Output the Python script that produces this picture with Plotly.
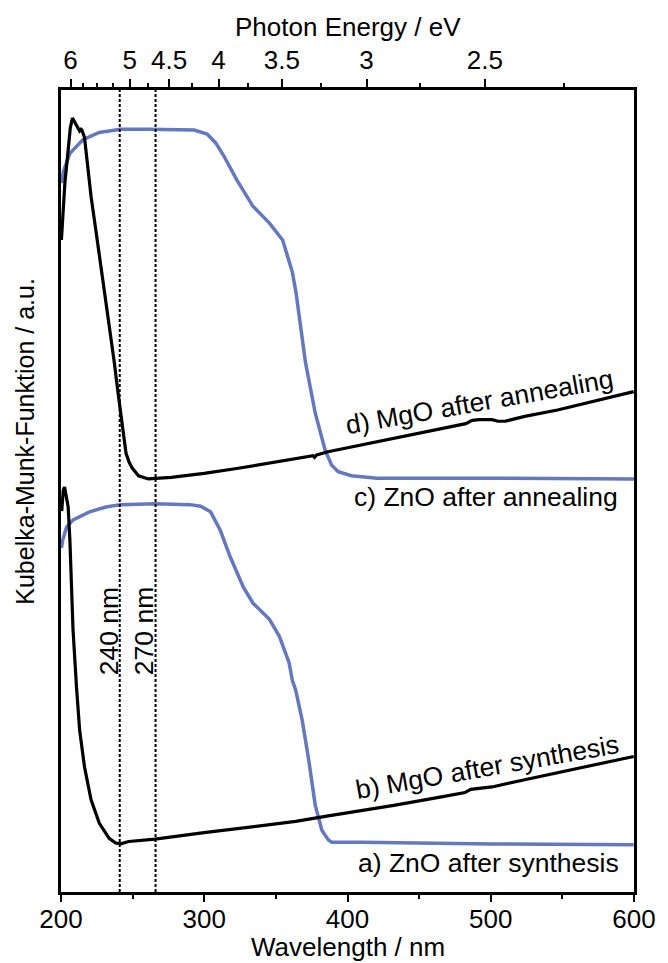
import plotly.graph_objects as go

# ---------------- data ----------------
# a) ZnO after synthesis (blue, lower)
wl_a = [200.3, 201.2, 203.9, 208.4, 219.9, 231.3, 241.6, 265.6, 290.0, 297.5, 304.4, 311.2,
        318.1, 327.3, 334.1, 345.5, 352.4, 359.2, 361.5, 363.8, 368.4, 370.7, 372.9, 377.5,
        382.1, 386.6, 389.0, 409.5, 500.9, 599.8]
km_a = [4.29, 4.39, 4.55, 4.64, 4.74, 4.80, 4.83, 4.84, 4.83, 4.81, 4.74, 4.51,
        4.18, 3.80, 3.60, 3.40, 3.19, 2.86, 2.64, 2.52, 2.14, 1.90, 1.65, 1.08,
        0.77, 0.65, 0.62, 0.62, 0.60, 0.59]

# b) MgO after synthesis (black, lower)
wl_b = [200.5, 201.0, 201.6, 202.5, 203.9, 205.0, 206.2, 207.3, 208.4, 210.8, 213.0, 216.4,
        221.0, 226.7, 233.6, 238.2, 241.6, 247.3, 265.6, 299.9, 345.5, 363.8, 386.6, 432.3,
        466.6, 482.0, 486.0, 500.9, 523.7, 546.6, 569.4, 599.8]
km_b = [4.75, 4.92, 5.01, 5.05, 4.93, 4.80, 4.39, 3.89, 3.27, 2.56, 2.02, 1.56,
        1.15, 0.86, 0.67, 0.61, 0.60, 0.63, 0.66, 0.74, 0.84, 0.88, 0.95, 1.08,
        1.19, 1.24, 1.28, 1.31, 1.40, 1.49, 1.58, 1.69]

# c) ZnO after annealing (blue, upper)
wl_c = [200.5, 201.6, 206.2, 215.3, 226.7, 241.6, 260.0, 280.0, 293.0, 302.0, 308.0, 313.6,
        322.7, 334.0, 345.5, 354.7, 358.0, 361.5, 364.0, 367.0, 370.7, 377.5, 384.4, 389.0,
        393.5, 402.7, 420.7, 500.0, 600.0]
km_c = [8.84, 8.98, 9.21, 9.38, 9.47, 9.51, 9.51, 9.51, 9.50, 9.45, 9.34, 9.18,
        8.88, 8.55, 8.34, 8.13, 7.94, 7.73, 7.48, 7.07, 6.60, 5.97, 5.51, 5.32,
        5.24, 5.19, 5.16, 5.16, 5.15]

# d) MgO after annealing (black, upper)
wl_d = [200.3, 200.8, 202.7, 205.0, 206.5, 208.0, 209.5, 210.8, 213.0, 214.0, 214.6, 216.4,
        218.7, 221.0, 224.5, 228.0, 234.8, 237.0, 240.0, 243.9, 245.4, 247.5, 249.6, 254.1,
        261.0, 277.0, 299.9, 322.7, 345.5, 363.8, 376.0, 377.0, 378.5, 386.4, 432.3, 455.2,
        482.6, 487.0, 491.8, 500.9, 505.0, 510.0, 523.7, 546.6, 569.4, 599.8]
km_d = [8.13, 8.32, 8.84, 9.25, 9.53, 9.65, 9.61, 9.56, 9.49, 9.51, 9.50, 9.41,
        9.04, 8.67, 8.23, 7.79, 6.88, 6.63, 6.20, 5.64, 5.47, 5.36, 5.29, 5.19,
        5.15, 5.17, 5.22, 5.28, 5.35, 5.41, 5.44, 5.42, 5.45, 5.49, 5.66, 5.74,
        5.84, 5.88, 5.89, 5.89, 5.87, 5.87, 5.93, 6.01, 6.11, 6.24]

# marked wavelengths (dashed lines)
edge_wl = [241, 266]
edge_labels = ["240 nm", "270 nm"]

# axes
wl_ticks = [200, 300, 400, 500, 600]
wl_minor = [250, 350, 450, 550]
energy_major = [6, 5, 4.5, 4, 3.5, 3, 2.5]
energy_labels = ["6", "5", "4.5", "4", "3.5", "3", "2.5"]
energy_minor = [5.75, 5.5, 5.25, 4.75, 4.25, 3.75, 3.25, 2.75, 2.25]
HC = 1239.84  # eV*nm

# curve labels: (text, x, y, angle, anchor)
curve_labels = [
    ("d) MgO after annealing", 492, 6.11, -10, "center"),
    ("c) ZnO after annealing", 590, 4.93, 0, "right"),
    ("b) MgO after synthesis", 498, 1.56, -10, "center"),
    ("a) ZnO after synthesis", 591, 0.365, 0, "right"),
]

FONT = "Liberation Sans, Arial, Helvetica, sans-serif"
BLUE = "#6478BE"
FS = 26.5
FT = 26

fig = go.Figure()

fig.add_trace(go.Scatter(x=wl_c, y=km_c, mode="lines", line=dict(color=BLUE, width=3.5)))
fig.add_trace(go.Scatter(x=wl_a, y=km_a, mode="lines", line=dict(color=BLUE, width=3.5)))
fig.add_trace(go.Scatter(x=wl_d, y=km_d, mode="lines", line=dict(color="black", width=3.2)))
fig.add_trace(go.Scatter(x=wl_b, y=km_b, mode="lines", line=dict(color="black", width=3.2)))

# dashed reference lines (on the top axis so that it is drawn)
dx, dy = [], []
for w in edge_wl:
    dx += [w, w, None]
    dy += [0, 10, None]
fig.add_trace(go.Scatter(x=dx, y=dy, mode="lines", xaxis="x2",
                         line=dict(color="black", width=2, dash="3px,2px")))

for w, t in zip(edge_wl, edge_labels):
    fig.add_annotation(x=w - 7.5, y=3.25, text=t, showarrow=False, textangle=-90,
                       font=dict(size=FS, color="black", family=FONT),
                       xanchor="center", yanchor="middle")

for t, x, y, ang, anc in curve_labels:
    fig.add_annotation(x=x, y=y, text=t, showarrow=False, textangle=ang,
                       font=dict(size=FS, color="black", family=FONT),
                       xanchor=anc, yanchor="middle")

# axis titles
fig.add_annotation(x=0.5, y=-0.0685, xref="paper", yref="paper", text="Wavelength / nm",
                   showarrow=False, font=dict(size=FT, color="black", family=FONT),
                   xanchor="center", yanchor="middle")
fig.add_annotation(x=0.5, y=1.079, xref="paper", yref="paper", text="Photon Energy / eV",
                   showarrow=False, font=dict(size=FT, color="black", family=FONT),
                   xanchor="center", yanchor="middle")
fig.add_annotation(x=-0.0634, y=0.5623, xref="paper", yref="paper",
                   text="Kubelka-Munk-Funktion / a.u.", textangle=-90,
                   showarrow=False, font=dict(size=25, color="black", family=FONT),
                   xanchor="center", yanchor="middle")

fig.update_layout(
    width=668, height=963,
    margin=dict(l=61, r=23.5, t=90, b=71),
    paper_bgcolor="white", plot_bgcolor="white",
    showlegend=False,
    font=dict(family=FONT, size=FT, color="black"),
    xaxis=dict(range=[200, 600], tickmode="array", tickvals=wl_ticks,
               ticks="outside", ticklen=7, tickwidth=2, tickcolor="black",
               ticklabelstandoff=-5,
               showline=True, linewidth=3, linecolor="black", showgrid=False, zeroline=False,
               tickfont=dict(size=FT, color="black", family=FONT),
               minor=dict(tickmode="array", tickvals=wl_minor, ticks="outside",
                          ticklen=4, tickwidth=2, tickcolor="black", showgrid=False)),
    xaxis2=dict(range=[200, 600], overlaying="x", side="top", tickmode="array",
                tickvals=[HC / e for e in energy_major], ticktext=energy_labels,
                ticks="outside", ticklen=8, tickwidth=1.5, tickcolor="black",
                showline=True, linewidth=3, linecolor="black", showgrid=False, zeroline=False,
                tickfont=dict(size=FT, color="black", family=FONT),
                minor=dict(tickmode="array", tickvals=[HC / e for e in energy_minor],
                           ticks="outside", ticklen=4, tickwidth=1.5, tickcolor="black",
                           showgrid=False)),
    yaxis=dict(range=[0, 10], showticklabels=False, ticks="", showgrid=False, zeroline=False,
               showline=True, linewidth=3, linecolor="black", mirror=True),
)

fig.write_html("out.html")
